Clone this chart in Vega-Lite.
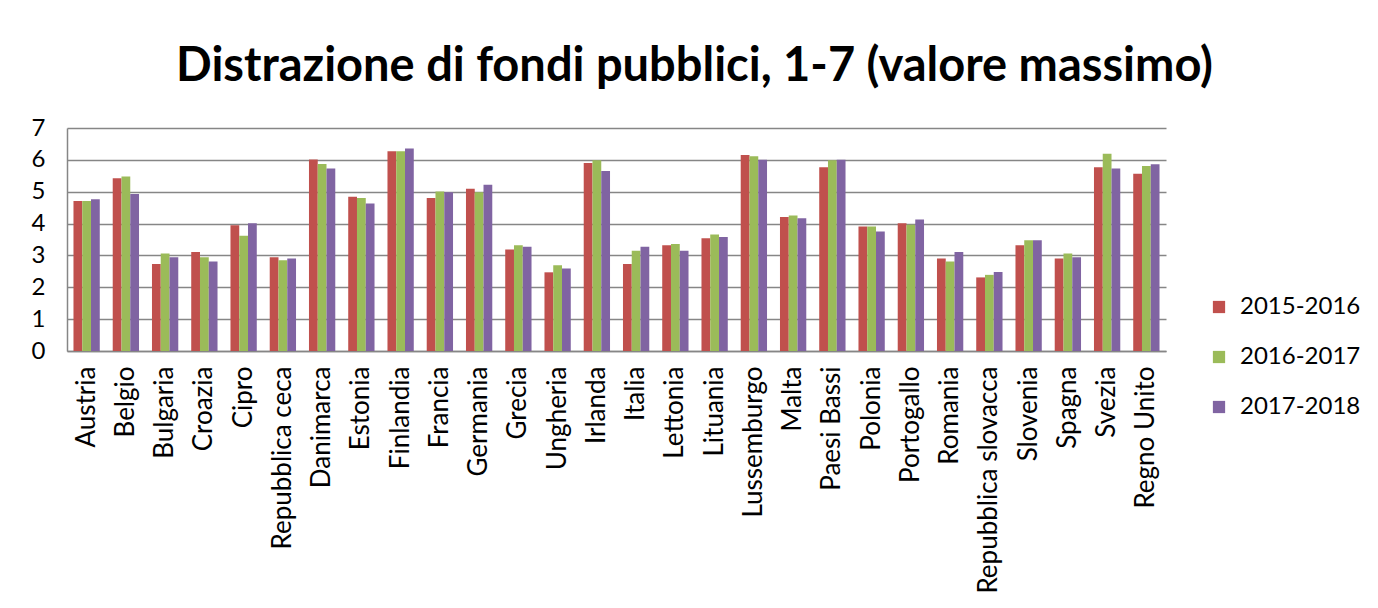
{
  "$schema": "https://vega.github.io/schema/vega-lite/v6.json",
  "autosize": "none",
  "width": 1099,
  "height": 223,
  "padding": {"left": 67, "top": 128, "right": 212, "bottom": 257},
  "background": "white",
  "title": {
    "text": "Distrazione di fondi pubblici, 1-7 (valore massimo)",
    "font": "Lato",
    "fontWeight": "bold",
    "fontSize": 47,
    "color": "#000000",
    "anchor": "middle",
    "frame": "group",
    "dx": 78,
    "baseline": "alphabetic",
    "offset": -12
  },
  "data": {
    "values": [
      {"paese": "Austria", "periodo": "2015-2016", "valore": 4.71},
      {"paese": "Austria", "periodo": "2016-2017", "valore": 4.71},
      {"paese": "Austria", "periodo": "2017-2018", "valore": 4.76},
      {"paese": "Belgio", "periodo": "2015-2016", "valore": 5.42},
      {"paese": "Belgio", "periodo": "2016-2017", "valore": 5.48},
      {"paese": "Belgio", "periodo": "2017-2018", "valore": 4.93},
      {"paese": "Bulgaria", "periodo": "2015-2016", "valore": 2.73},
      {"paese": "Bulgaria", "periodo": "2016-2017", "valore": 3.06},
      {"paese": "Bulgaria", "periodo": "2017-2018", "valore": 2.94},
      {"paese": "Croazia", "periodo": "2015-2016", "valore": 3.11},
      {"paese": "Croazia", "periodo": "2016-2017", "valore": 2.94},
      {"paese": "Croazia", "periodo": "2017-2018", "valore": 2.81},
      {"paese": "Cipro", "periodo": "2015-2016", "valore": 3.95},
      {"paese": "Cipro", "periodo": "2016-2017", "valore": 3.62},
      {"paese": "Cipro", "periodo": "2017-2018", "valore": 4.01},
      {"paese": "Repubblica ceca", "periodo": "2015-2016", "valore": 2.94},
      {"paese": "Repubblica ceca", "periodo": "2016-2017", "valore": 2.85},
      {"paese": "Repubblica ceca", "periodo": "2017-2018", "valore": 2.9},
      {"paese": "Danimarca", "periodo": "2015-2016", "valore": 6.01},
      {"paese": "Danimarca", "periodo": "2016-2017", "valore": 5.87},
      {"paese": "Danimarca", "periodo": "2017-2018", "valore": 5.73},
      {"paese": "Estonia", "periodo": "2015-2016", "valore": 4.84},
      {"paese": "Estonia", "periodo": "2016-2017", "valore": 4.8},
      {"paese": "Estonia", "periodo": "2017-2018", "valore": 4.63},
      {"paese": "Finlandia", "periodo": "2015-2016", "valore": 6.27},
      {"paese": "Finlandia", "periodo": "2016-2017", "valore": 6.27},
      {"paese": "Finlandia", "periodo": "2017-2018", "valore": 6.36},
      {"paese": "Francia", "periodo": "2015-2016", "valore": 4.8},
      {"paese": "Francia", "periodo": "2016-2017", "valore": 5.01},
      {"paese": "Francia", "periodo": "2017-2018", "valore": 4.98},
      {"paese": "Germania", "periodo": "2015-2016", "valore": 5.09},
      {"paese": "Germania", "periodo": "2016-2017", "valore": 4.98},
      {"paese": "Germania", "periodo": "2017-2018", "valore": 5.22},
      {"paese": "Grecia", "periodo": "2015-2016", "valore": 3.19},
      {"paese": "Grecia", "periodo": "2016-2017", "valore": 3.32},
      {"paese": "Grecia", "periodo": "2017-2018", "valore": 3.27},
      {"paese": "Ungheria", "periodo": "2015-2016", "valore": 2.47},
      {"paese": "Ungheria", "periodo": "2016-2017", "valore": 2.69},
      {"paese": "Ungheria", "periodo": "2017-2018", "valore": 2.59},
      {"paese": "Irlanda", "periodo": "2015-2016", "valore": 5.9},
      {"paese": "Irlanda", "periodo": "2016-2017", "valore": 5.99},
      {"paese": "Irlanda", "periodo": "2017-2018", "valore": 5.65},
      {"paese": "Italia", "periodo": "2015-2016", "valore": 2.73},
      {"paese": "Italia", "periodo": "2016-2017", "valore": 3.15},
      {"paese": "Italia", "periodo": "2017-2018", "valore": 3.27},
      {"paese": "Lettonia", "periodo": "2015-2016", "valore": 3.32},
      {"paese": "Lettonia", "periodo": "2016-2017", "valore": 3.36},
      {"paese": "Lettonia", "periodo": "2017-2018", "valore": 3.15},
      {"paese": "Lituania", "periodo": "2015-2016", "valore": 3.54},
      {"paese": "Lituania", "periodo": "2016-2017", "valore": 3.66},
      {"paese": "Lituania", "periodo": "2017-2018", "valore": 3.58},
      {"paese": "Lussemburgo", "periodo": "2015-2016", "valore": 6.15},
      {"paese": "Lussemburgo", "periodo": "2016-2017", "valore": 6.11},
      {"paese": "Lussemburgo", "periodo": "2017-2018", "valore": 6.0},
      {"paese": "Malta", "periodo": "2015-2016", "valore": 4.21},
      {"paese": "Malta", "periodo": "2016-2017", "valore": 4.25},
      {"paese": "Malta", "periodo": "2017-2018", "valore": 4.17},
      {"paese": "Paesi Bassi", "periodo": "2015-2016", "valore": 5.77},
      {"paese": "Paesi Bassi", "periodo": "2016-2017", "valore": 5.99},
      {"paese": "Paesi Bassi", "periodo": "2017-2018", "valore": 6.0},
      {"paese": "Polonia", "periodo": "2015-2016", "valore": 3.91},
      {"paese": "Polonia", "periodo": "2016-2017", "valore": 3.91},
      {"paese": "Polonia", "periodo": "2017-2018", "valore": 3.75},
      {"paese": "Portogallo", "periodo": "2015-2016", "valore": 4.01},
      {"paese": "Portogallo", "periodo": "2016-2017", "valore": 3.96},
      {"paese": "Portogallo", "periodo": "2017-2018", "valore": 4.13},
      {"paese": "Romania", "periodo": "2015-2016", "valore": 2.9},
      {"paese": "Romania", "periodo": "2016-2017", "valore": 2.81},
      {"paese": "Romania", "periodo": "2017-2018", "valore": 3.11},
      {"paese": "Repubblica slovacca", "periodo": "2015-2016", "valore": 2.31},
      {"paese": "Repubblica slovacca", "periodo": "2016-2017", "valore": 2.39},
      {"paese": "Repubblica slovacca", "periodo": "2017-2018", "valore": 2.48},
      {"paese": "Slovenia", "periodo": "2015-2016", "valore": 3.32},
      {"paese": "Slovenia", "periodo": "2016-2017", "valore": 3.48},
      {"paese": "Slovenia", "periodo": "2017-2018", "valore": 3.48},
      {"paese": "Spagna", "periodo": "2015-2016", "valore": 2.9},
      {"paese": "Spagna", "periodo": "2016-2017", "valore": 3.06},
      {"paese": "Spagna", "periodo": "2017-2018", "valore": 2.94},
      {"paese": "Svezia", "periodo": "2015-2016", "valore": 5.77},
      {"paese": "Svezia", "periodo": "2016-2017", "valore": 6.19},
      {"paese": "Svezia", "periodo": "2017-2018", "valore": 5.73},
      {"paese": "Regno Unito", "periodo": "2015-2016", "valore": 5.56},
      {"paese": "Regno Unito", "periodo": "2016-2017", "valore": 5.81},
      {"paese": "Regno Unito", "periodo": "2017-2018", "valore": 5.86}
    ]
  },
  "mark": {"type": "bar"},
  "encoding": {
    "x": {
      "field": "paese",
      "type": "nominal",
      "sort": null,
      "scale": {"paddingInner": 0.33, "paddingOuter": 0.165},
      "axis": {
        "title": null,
        "labelAngle": -90,
        "labelAlign": "right",
        "labelBaseline": "middle",
        "labelFont": "Lato",
        "labelFontSize": 26,
        "labelColor": "#000000",
        "labelPadding": 15,
        "labelLimit": 400,
        "ticks": false,
        "domainColor": "#868686",
        "domainWidth": 1.5,
        "grid": false
      }
    },
    "xOffset": {"field": "periodo", "type": "nominal"},
    "y": {
      "field": "valore",
      "type": "quantitative",
      "scale": {"domain": [0, 7], "nice": false},
      "axis": {
        "title": null,
        "values": [0, 1, 2, 3, 4, 5, 6, 7],
        "labelFont": "Lato",
        "labelFontSize": 24,
        "labelColor": "#000000",
        "labelPadding": 22,
        "ticks": false,
        "domainColor": "#868686",
        "domainWidth": 1.5,
        "grid": true,
        "gridColor": "#868686",
        "gridWidth": 1.5
      }
    },
    "color": {
      "field": "periodo",
      "type": "nominal",
      "scale": {
        "domain": ["2015-2016", "2016-2017", "2017-2018"],
        "range": ["#C0504D", "#9BBB59", "#8064A2"]
      },
      "legend": {
        "title": null,
        "orient": "none",
        "legendX": 1140,
        "legendY": 167,
        "symbolType": "square",
        "symbolSize": 150,
        "symbolStrokeWidth": 0,
        "labelFont": "Lato",
        "labelFontSize": 24,
        "labelColor": "#000000",
        "labelOffset": 9,
        "rowPadding": 26
      }
    }
  },
  "config": {
    "view": {"stroke": null}
  }
}
